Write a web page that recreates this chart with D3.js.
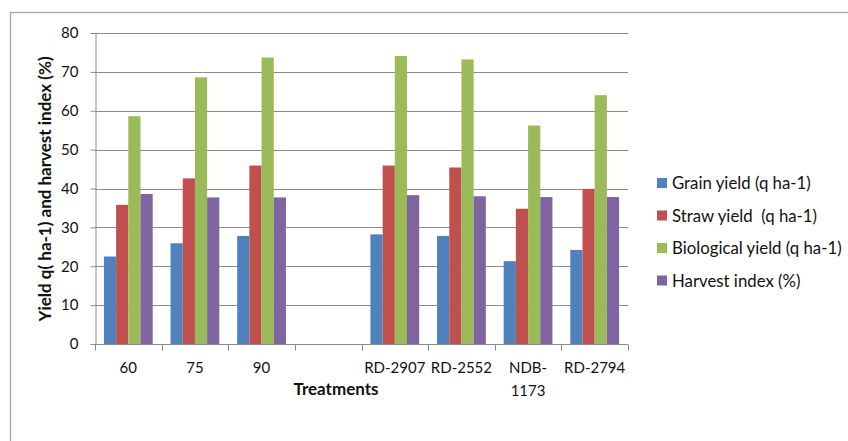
<!DOCTYPE html>
<html>
<head>
<meta charset="utf-8">
<script src="https://cdn.jsdelivr.net/npm/d3@7"></script>
<style>
  html, body { margin: 0; padding: 0; background: #fff; }
  svg { display: block; font-family: Lato, "Open Sans", sans-serif; }
</style>
</head>
<body>
<svg id="chart" width="848" height="441"></svg>
<script>
// Treatments (the blank slot separates the spacing levels from the varieties)
const categories = ["60", "75", "90", "", "RD-2907", "RD-2552", "NDB-1173", "RD-2794"];

const seriesNames = [
  "Grain yield (q ha-1)",
  "Straw yield  (q ha-1)",
  "Biological yield (q ha-1)",
  "Harvest index (%)"
];

const grainYield      = [22.5, 25.9, 27.8, null, 28.2, 27.8, 21.3, 24.2];
const strawYield      = [35.8, 42.6, 45.9, null, 45.9, 45.4, 34.8, 39.9];
const biologicalYield = [58.6, 68.6, 73.7, null, 74.1, 73.2, 56.2, 64.0];
const harvestIndex    = [38.6, 37.7, 37.7, null, 38.3, 38.0, 37.8, 37.8];

const yTicks = [0, 10, 20, 30, 40, 50, 60, 70, 80];

const seriesValues = [grainYield, strawYield, biologicalYield, harvestIndex];
const colors = ["#4F81BD", "#C0504D", "#9BBB59", "#8064A2"];
const textColor = "#111";

const svg = d3.select("#chart");

// outer chart frame (extends past the right and bottom edges)
svg.append("rect")
  .attr("x", 10.5).attr("y", 12.5)
  .attr("width", 900).attr("height", 500)
  .attr("fill", "none").attr("stroke", "#a6a6a6").attr("stroke-width", 1.3);

const plot = { left: 95, right: 628, top: 33, bottom: 344 };

const x = d3.scaleBand()
  .domain(categories.map((c, i) => i))
  .range([plot.left, plot.right])
  .paddingInner(0).paddingOuter(0);

const step = x.step();
const xs = d3.scaleBand()
  .domain(d3.range(seriesNames.length))
  .range([step * 0.134, step * 0.866]);

const y = d3.scaleLinear().domain([0, 80]).range([plot.bottom, plot.top]);

// horizontal gridlines
svg.append("g")
  .selectAll("line")
  .data(yTicks.filter(t => t > 0))
  .join("line")
  .attr("x1", plot.left).attr("x2", plot.right)
  .attr("y1", d => Math.round(y(d)) + 0.5).attr("y2", d => Math.round(y(d)) + 0.5)
  .attr("stroke", "#8c8c8c").attr("stroke-width", 1);

// bars
const groups = svg.append("g")
  .selectAll("g")
  .data(categories.map((c, i) => i))
  .join("g")
  .attr("transform", i => `translate(${x(i)},0)`);

groups.selectAll("rect")
  .data(i => seriesValues.map((vals, s) => ({ s, v: vals[i] })).filter(d => d.v != null))
  .join("rect")
  .attr("x", d => xs(d.s))
  .attr("width", xs.bandwidth())
  .attr("y", d => y(d.v))
  .attr("height", d => y(0) - y(d.v))
  .attr("fill", d => colors[d.s]);

// y axis
const yAxis = svg.append("g")
  .attr("transform", `translate(${plot.left + 0.5},0)`)
  .call(d3.axisLeft(y).tickValues(yTicks).tickSize(5).tickPadding(12).tickSizeOuter(0));
yAxis.select(".domain").attr("stroke", "#8c8c8c");
yAxis.selectAll(".tick line").attr("stroke", "#8c8c8c");
yAxis.selectAll(".tick text")
  .attr("font-size", 15).attr("fill", textColor)
  .attr("font-family", "Lato, 'Open Sans', sans-serif");

// x axis with tick marks at category boundaries
const xAxisG = svg.append("g").attr("transform", `translate(0,${plot.bottom + 0.5})`);
xAxisG.append("line")
  .attr("x1", plot.left).attr("x2", plot.right)
  .attr("stroke", "#8c8c8c");
xAxisG.selectAll("line.tk")
  .data(d3.range(categories.length + 1))
  .join("line").attr("class", "tk")
  .attr("x1", i => Math.round(plot.left + i * step) + 0.5)
  .attr("x2", i => Math.round(plot.left + i * step) + 0.5)
  .attr("y1", 0).attr("y2", 6)
  .attr("stroke", "#8c8c8c");

// category labels, long names wrap after the hyphen
const labelG = svg.append("g");
categories.forEach((c, i) => {
  const lines = c.length > 7 && c.includes("-")
    ? [c.slice(0, c.indexOf("-") + 1), c.slice(c.indexOf("-") + 1)]
    : [c];
  const t = labelG.append("text")
    .attr("x", x(i) + step / 2)
    .attr("y", 372.5)
    .attr("text-anchor", "middle")
    .attr("font-size", 15).attr("fill", textColor);
  lines.forEach((ln, k) => {
    t.append("tspan").attr("x", x(i) + step / 2).attr("dy", k === 0 ? 0 : 23).text(ln);
  });
});

// axis titles
svg.append("text")
  .attr("x", 336).attr("y", 395)
  .attr("text-anchor", "middle")
  .attr("font-size", 17).attr("font-weight", "bold").attr("fill", textColor)
  .text("Treatments");

svg.append("text")
  .attr("transform", "translate(51,189) rotate(-90)")
  .attr("text-anchor", "middle")
  .attr("font-size", 17).attr("font-weight", "bold").attr("fill", textColor)
  .text("Yield q( ha-1) and harvest index (%)");

// legend
const legend = svg.append("g").attr("transform", "translate(657,183)");
const items = legend.selectAll("g")
  .data(seriesNames)
  .join("g")
  .attr("transform", (d, i) => `translate(0,${i * 32.5})`);
items.append("rect")
  .attr("x", 0).attr("y", -5).attr("width", 10).attr("height", 10)
  .attr("fill", (d, i) => colors[i]);
items.append("text")
  .attr("x", 15).attr("y", 6)
  .attr("font-size", 16.8).attr("fill", textColor)
  .style("white-space", "pre")
  .text(d => d);
</script>
</body>
</html>
